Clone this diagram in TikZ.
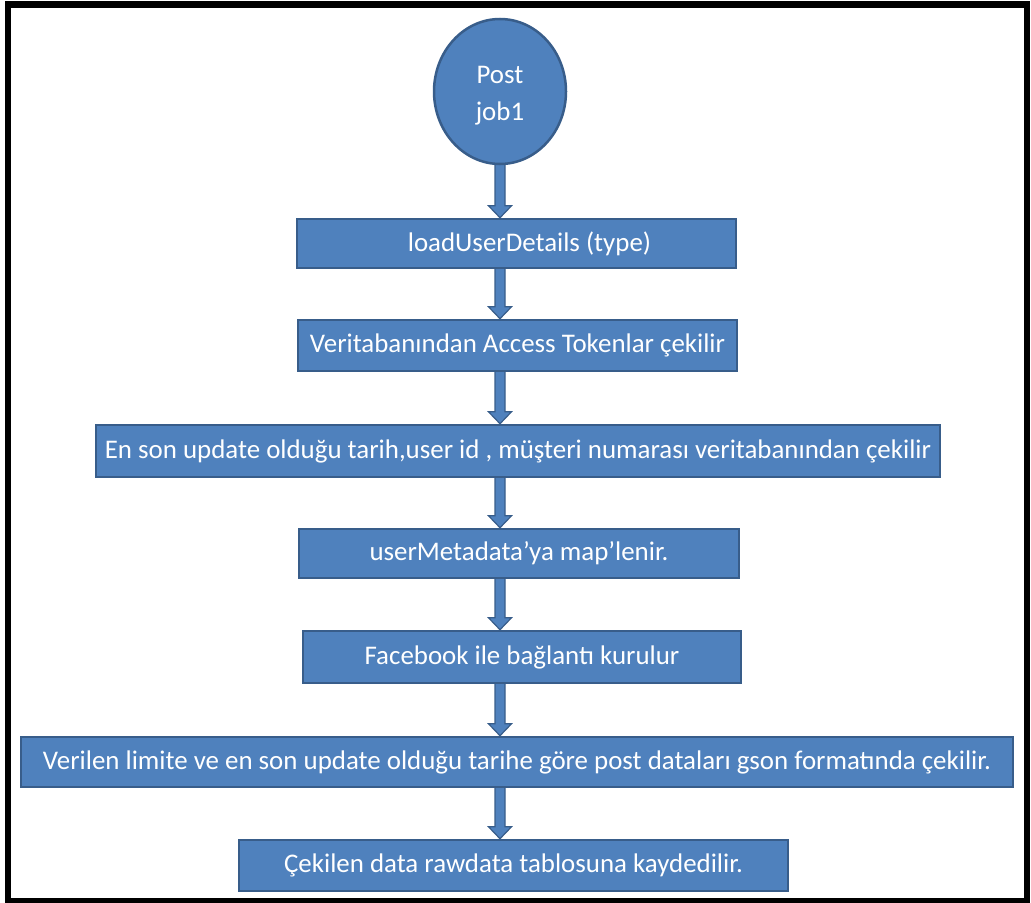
\documentclass[tikz,border=0pt]{standalone}
\usepackage{fontspec}
\setmainfont{Carlito}
\usetikzlibrary{calc,shapes.geometric,backgrounds}
\definecolor{fillblue}{HTML}{4F81BD}
\definecolor{edgeblue}{HTML}{385D8A}
\begin{document}
\begin{tikzpicture}[x=1bp,y=-1bp,
  txt/.style={text=white, font=\fontsize{27}{37}\selectfont, inner sep=0pt, align=center},
  box/.style={txt, draw=edgeblue, line width=2.5bp, fill=fillblue},
  fatarrow/.style={draw=edgeblue, line width=1.2bp, fill=fillblue,
    to path={let \p1=(\tikztostart), \p2=(\tikztotarget) in
      (\x1-5bp,\y1) -- (\x1-5bp,\y2+12bp) -- (\x1-11.5bp,\y2+12bp) -- (\x1,\y2)
      -- (\x1+11.5bp,\y2+12bp) -- (\x1+5bp,\y2+12bp) -- (\x1+5bp,\y1) -- cycle}}]
\useasboundingbox (0,0) rectangle (1031,903);
\draw[line width=6bp] (8,4.5) rectangle (1026.5,901);

\node[box, ellipse, minimum width=132bp, minimum height=145bp] (e) at (500,91.5) {};
\node[txt] (et) at ([yshift=-4bp]e.center) {Post\\job1};
\node[box, minimum width=439bp, minimum height=49bp] (b1) at (516.5,243.5) {\hspace*{26bp}loadUserDetails (type)};
\node[box, minimum width=439bp, minimum height=51bp] (b2) at (517.5,345.5) {Veritabanından Access Tokenlar çekilir};
\node[box, minimum width=844bp, minimum height=52bp] (b3) at (518,451) {En son update olduğu tarih,user id , müşteri numarası veritabanından çekilir};
\node[box, minimum width=440bp, minimum height=49bp] (b4) at (519,553.5) {userMetadata’ya map’lenir.};
\node[box, minimum width=438bp, minimum height=52bp] (b5) at (522,657) {Facebook ile bağlantı kurulur};
\node[box, minimum width=992bp, minimum height=50bp] (b6) at (517,762) {Verilen limite ve en son update olduğu tarihe göre post dataları gson formatında çekilir.};
\node[box, minimum width=549bp, minimum height=51bp] (b7) at (513.5,865.5) {Çekilen data rawdata tablosuna kaydedilir.};

\begin{pgfonlayer}{background}
\draw[fatarrow] ([yshift=3bp]e.south) to (b1.north -| e.south);
\draw[fatarrow] ([yshift=3bp]b1.south -| e.south) to (b2.north -| e.south);
\draw[fatarrow] ([yshift=3bp]b2.south -| e.south) to (b3.north -| e.south);
\draw[fatarrow] ([yshift=3bp]b3.south -| e.south) to (b4.north -| e.south);
\draw[fatarrow] ([yshift=3bp]b4.south -| e.south) to (b5.north -| e.south);
\draw[fatarrow] ([yshift=3bp]b5.south -| e.south) to (b6.north -| e.south);
\draw[fatarrow] ([yshift=3bp]b6.south -| e.south) to (b7.north -| e.south);
\end{pgfonlayer}
\end{tikzpicture}
\end{document}
